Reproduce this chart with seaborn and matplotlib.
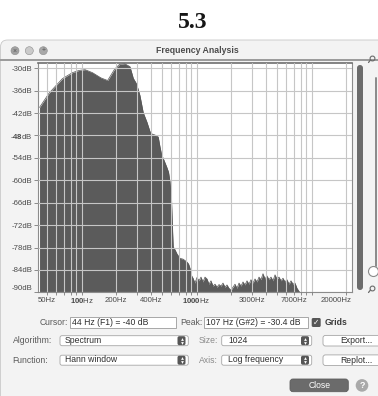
import matplotlib
matplotlib.use("Agg")
import matplotlib.pyplot as plt
import seaborn as sns
import pandas as pd
from matplotlib.patches import FancyBboxPatch, Circle, Rectangle
from matplotlib.ticker import NullLocator

# ---- spectrum (Hann window, 1024-point FFT) ----
freq_hz = [43, 52, 60, 68, 83, 95, 107, 124, 147, 168, 193, 213, 236, 263, 281,
           300, 321, 343, 370, 393, 408, 435, 463, 480, 496, 519, 548, 569, 586,
           604, 616, 625, 648, 674, 717, 761, 819, 850, 874, 905,
           929, 966, 1006, 1047, 1090, 1134, 1181, 1229, 1279, 1331, 1386, 1443,
           1502, 1563, 1627, 1693, 1763, 1834, 1909, 1988, 2069, 2153, 2241, 2333,
           2428, 2527, 2630, 2738, 2850, 2966, 3087, 3214, 3344, 3481, 3623, 3771,
           3926, 4087, 4253, 4427, 4608, 4797, 4993, 5197, 5408, 5629, 5859, 6099,
           6348, 6607, 6877, 7158, 7451, 7756, 8072, 8400, 22050]
level_db = [-40.5, -36.7, -34.6, -32.8, -31.2, -30.6, -30.4, -31.2, -32.6, -33.3,
            -30.3, -29.0, -28.8, -29.6, -32.7, -34.2, -37.3, -41.9, -44.5, -47.0,
            -47.6, -47.9, -48.4, -51.1, -53.2, -54.6, -56.4, -57.8, -60.4, -65.3,
            -72.8, -77.8, -78.6, -79.7, -80.9, -81.1, -81.8, -82.4, -83.5, -85.6,
            -86.2, -87.5, -86.0, -86.9, -85.9, -87.2, -85.9, -86.4, -87.8, -86.9,
            -88.3, -87.8, -88.6, -87.9, -88.3, -87.5, -88.6, -88.0, -88.9, -89.4,
            -88.6, -87.8, -88.9, -87.5, -88.3, -87.2, -88.0, -86.9, -87.8, -86.6,
            -87.5, -86.4, -87.2, -85.9, -86.6, -85.0, -86.4, -85.6, -86.6, -85.9,
            -86.9, -85.3, -86.4, -85.9, -86.9, -86.2, -87.2, -86.6, -87.8, -86.9,
            -87.8, -87.5, -88.9, -89.7, -90.5, -96.0, -96.0]

# ---- axis ticks ----
grid_freqs = [50, 60, 70, 80, 90, 100, 200, 300, 400, 500, 600, 700, 800, 900,
              1000, 2000, 3000, 4000, 5000, 6000, 7000, 8000, 9000, 10000, 20000]
freq_label_at = [50, 100, 200, 400, 1000, 3000, 7000, 20000]
freq_labels = ["50Hz", r"$\mathbf{100}$Hz", "200Hz", "400Hz",
               r"$\mathbf{1000}$Hz", "3000Hz", "7000Hz", "20000Hz"]
db_ticks = [-30, -36, -42, -48, -54, -60, -66, -72, -78, -84, -90]
db_labels = ["-30dB", "-36dB", "-42dB", r"-$\mathbf{48}$dB", "-54dB", "-60dB",
             "-66dB", "-72dB", "-78dB", "-84dB", "-90dB"]

# ---- dialog fields ----
cursor_text = "44 Hz (F1) = -40 dB"
peak_text = "107 Hz (G#2) = -30.4 dB"
algorithm = "Spectrum"
window_fn = "Hann window"
fft_size = "1024"
axis_mode = "Log frequency"

sns.set_style("white")
plt.rcParams["font.family"] = ["Liberation Sans", "DejaVu Sans"]
plt.rcParams["mathtext.fontset"] = "custom"
plt.rcParams["mathtext.rm"] = "Liberation Sans"
plt.rcParams["mathtext.bf"] = "Liberation Sans:bold"

W, H = 378, 396
fig = plt.figure(figsize=(W / 100, H / 100), dpi=100)
fig.patch.set_facecolor("white")

# chrome layer in pixel coordinates
cx = fig.add_axes([0, 0, 1, 1])
cx.set_xlim(0, W)
cx.set_ylim(H, 0)
cx.axis("off")

cx.text(193, 23, "5.3", fontsize=17, family="Liberation Serif", weight="bold",
        ha="center", va="center", color="#161616")

cx.add_patch(FancyBboxPatch((0.5, 40), W + 20, H, boxstyle="round,pad=0,rounding_size=7",
                            fc="#f3f3f3", ec="#c8c8c8", lw=0.6))
cx.add_patch(Rectangle((0, 58.5), W, 2.3, fc="#9c9c9c", ec="none"))

# title bar buttons and title
for x, c in [(15, "#a2a2a2"), (29.3, "#cacaca"), (43.3, "#a8a8a8")]:
    cx.add_patch(Circle((x, 50.7), 4, fc=c, ec="#8e8e8e", lw=0.4))
cx.text(15, 50.9, "×", fontsize=5, ha="center", va="center", color="#555")
cx.text(43.3, 50.9, "+", fontsize=5, ha="center", va="center", color="#555")
cx.text(197, 50.7, "Frequency Analysis", fontsize=6.3, weight="bold",
        ha="center", va="center", color="#4c4c4c")

# right-hand sliders
cx.add_patch(FancyBboxPatch((357, 65), 6, 225, boxstyle="round,pad=0,rounding_size=3",
                            fc="#6c6c6c", ec="none"))
cx.plot([375.5, 375.5], [78, 266], color="#8a8a8a", lw=1.4, solid_capstyle="round")
cx.add_patch(Circle((373.5, 271.5), 5, fc="white", ec="#8a8a8a", lw=0.8))
for yc in (60, 290):
    cx.add_patch(Circle((372.5, yc - 1.5), 2.4, fc="none", ec="#6a6a6a", lw=0.8))
    cx.plot([370.5, 368.5], [yc, yc + 2.5], color="#6a6a6a", lw=0.9)

# ---- spectrum plot ----
ax_left, ax_right, ax_top, ax_bot = 38, 352, 63.3, 292.4
ax = fig.add_axes([ax_left / W, 1 - ax_bot / H, (ax_right - ax_left) / W, (ax_bot - ax_top) / H])
ax.set_facecolor("white")

spec = pd.DataFrame({"freq": freq_hz, "db": level_db})
ax.fill_between(spec["freq"], spec["db"], -120, color="#5b5b5b", lw=0, zorder=1)
sns.lineplot(data=spec, x="freq", y="db", ax=ax, color="#555555", lw=0.5,
             estimator=None, sort=False, zorder=1.5)

ax.set_xscale("log")
ax.set_xlim(41.7, 22410)
ax.set_ylim(-90, -28.7)
ax.set_xlabel("")
ax.set_ylabel("")

ax.set_xticks(grid_freqs)
ax.xaxis.set_minor_locator(NullLocator())
ax.set_xticklabels([""] * len(grid_freqs))
ax.set_yticks(db_ticks)
ax.set_yticklabels(db_labels)

ax.set_axisbelow(False)
ax.grid(True, axis="both", color="#c6c6c6", lw=0.8)
ax.tick_params(axis="x", bottom=True, length=2.5, width=0.6, color="#7a7a7a", direction="out")
ax.tick_params(axis="y", left=True, length=3, width=0.6, color="#7a7a7a", pad=1,
               labelsize=5.6, labelcolor="#4a4a4a")
for lab, v in zip(ax.get_yticklabels(), db_ticks):
    if v == -90:
        lab.set_verticalalignment("bottom")

for f, txt in zip(freq_label_at, freq_labels):
    ha = "right" if f == 20000 else "center"
    xpos = ax.get_xlim()[1] if f == 20000 else f
    ax.annotate(txt, xy=(xpos, 0), xycoords=("data", "axes fraction"),
                xytext=(0, -8), textcoords="offset pixels", ha=ha, va="center",
                fontsize=5.6, color="#4a4a4a", annotation_clip=False)

for side, sp in ax.spines.items():
    sp.set_visible(True)
    sp.set_color("#8c8c8c")
    sp.set_linewidth(0.8)
ax.spines["top"].set_color("#6e6e6e")
ax.spines["top"].set_linewidth(1.2)

# ---- controls below the plot ----
LBL = "#5a5a5a"
TXT = "#2e2e2e"
FS = 6.2


def rbox(x0, y0, x1, y1, fc="white", ec="#a6a6a6", r=2.0, lw=0.6):
    cx.add_patch(FancyBboxPatch((x0, y0), x1 - x0, y1 - y0,
                                boxstyle=f"round,pad=0,rounding_size={r}",
                                fc=fc, ec=ec, lw=lw))


def stepper(xc, yc):
    rbox(xc - 4, yc - 4.5, xc + 4, yc + 4.5, fc="#565656", ec="none", r=1.8)
    cx.plot(xc, yc - 1.8, marker="^", ms=2.0, color="white", mew=0)
    cx.plot(xc, yc + 1.8, marker="v", ms=2.0, color="white", mew=0)


# row 1: readouts
cx.text(68, 322.5, "Cursor:", fontsize=FS, ha="right", va="center", color=LBL)
cx.add_patch(Rectangle((70, 316.7), 105.7, 11.6, fc="white", ec="#9a9a9a", lw=0.6))
cx.text(72.3, 322.5, cursor_text, fontsize=FS, ha="left", va="center", color=TXT)
cx.text(202.5, 322.5, "Peak:", fontsize=FS, ha="right", va="center", color=LBL)
cx.add_patch(Rectangle((204, 316.7), 104.3, 11.6, fc="white", ec="#9a9a9a", lw=0.6))
cx.text(205.7, 322.5, peak_text, fontsize=FS, ha="left", va="center", color=TXT)
rbox(311.7, 318, 320.7, 327, fc="#565656", ec="none", r=1.5)
cx.text(316.2, 322.8, "✓", fontsize=5.5, ha="center", va="center", color="white",
        family="DejaVu Sans", weight="bold")
cx.text(325, 322.5, "Grids", fontsize=FS, weight="bold", ha="left", va="center", color="#3a3a3a")

# row 2 and 3: selectors
rows = [(340.7, "Algorithm:", algorithm, "Size:", fft_size, "Export..."),
        (360.2, "Function:", window_fn, "Axis:", axis_mode, "Replot...")]
for yc, l1, v1, l2, v2, btn in rows:
    cx.text(12.7, yc, l1, fontsize=FS, ha="left", va="center", color=LBL)
    rbox(60, yc - 5, 188.3, yc + 5)
    cx.text(65, yc - 0.3, v1, fontsize=FS, ha="left", va="center", color=TXT)
    stepper(181.5, yc)
    cx.text(199, yc, l2, fontsize=FS, ha="left", va="center", color="#8a8a8a")
    rbox(221.7, yc - 5, 311.7, yc + 5)
    cx.text(228, yc - 0.3, v2, fontsize=FS, ha="left", va="center", color=TXT)
    stepper(305, yc)
    rbox(323, yc - 5.3, 392, yc + 5.3, r=2.5)
    cx.text(356.7, yc, btn, fontsize=FS, ha="center", va="center", color=TXT)

# row 4: close and help
rbox(290, 379, 348.3, 391.7, fc="#6b6b6b", ec="#5e5e5e", r=3)
cx.text(319.2, 385.4, "Close", fontsize=FS, ha="center", va="center", color="white")
cx.add_patch(Circle((362, 385.4), 6.3, fc="#a9a9a9", ec="none"))
cx.text(362, 385.6, "?", fontsize=6.5, weight="bold", ha="center", va="center", color="white")

fig.savefig("out.png", dpi=100, facecolor=fig.get_facecolor())
